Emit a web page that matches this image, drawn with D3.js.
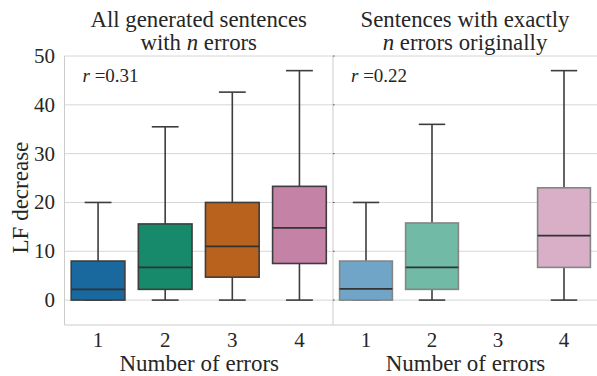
<!DOCTYPE html>
<html><head><meta charset="utf-8">
<script src="https://cdn.jsdelivr.net/npm/d3@7"></script>
<style>body{margin:0;background:#fff}svg{display:block}</style>
</head><body><svg id="c" width="597" height="376"></svg>
<script>
const categories = ["1","2","3","4"];
const yTicks = [0,10,20,30,40,50];
const panelTitles = [["All generated sentences","with ","n"," errors"],["Sentences with exactly","","n"," errors originally"]];
const rValues = ["0.31","0.22"];
// [low whisker, q1, median, q3, high whisker]
const leftStats = [[0,0,2.2,8,20],[0,2.2,6.7,15.6,35.5],[0,4.7,11,20,42.6],[0,7.5,14.8,23.3,47]];
const rightStats = [[0,0,2.3,8,20],[0,2.2,6.7,15.8,36],null,[0,6.7,13.2,23,47]];
const leftColors = ["#1a699e","#168a6b","#b8621e","#c482a6"];
const rightColors = ["#70a5c8","#71baa5","#cccccc","#d9afc8"];
const FONT = "Liberation Serif";

const svg = d3.select("#c");
const txt = (sel)=>sel.append("text").attr("font-family",FONT).attr("fill","#262626");
const y = d3.scaleLinear().domain([-5.1,50]).range([325,56]);
const panels = [{x0:64.5,x1:333,stats:leftStats,colors:leftColors,edge:"#3d3d3d"},
                {x0:333,x1:597,stats:rightStats,colors:rightColors,edge:"#858585"}];

panels.forEach((p,pi)=>{
  const x = d3.scaleBand().domain(categories).range([p.x0,p.x1]).paddingInner(0.2).paddingOuter(0.1);
  const g = svg.append("g");
  g.selectAll("line.grid").data(yTicks).join("line")
    .attr("x1",p.x0).attr("x2",p.x1).attr("y1",d=>y(d)).attr("y2",d=>y(d))
    .attr("stroke","#d6d6d6").attr("stroke-width",1);
  g.append("line").attr("x1",p.x0).attr("x2",p.x0).attr("y1",y(50)).attr("y2",325).attr("stroke","#cccccc");
  g.append("line").attr("x1",p.x0).attr("x2",p.x1).attr("y1",325).attr("y2",325).attr("stroke","#cccccc");
  p.stats.forEach((s,i)=>{
    if(!s) return;
    const cx = x(categories[i]) + x.bandwidth()/2;
    const w = x.bandwidth();
    const cap = w/2;
    const bg = g.append("g");
    const ln = (x1,x2,y1,y2,c)=>bg.append("line").attr("x1",x1).attr("x2",x2).attr("y1",y1).attr("y2",y2).attr("stroke",c||"#3d3d3d").attr("stroke-width",1.6);
    ln(cx,cx,y(s[0]),y(s[1]));
    ln(cx,cx,y(s[3]),y(s[4]));
    ln(cx-cap/2,cx+cap/2,y(s[0]),y(s[0]));
    ln(cx-cap/2,cx+cap/2,y(s[4]),y(s[4]));
    bg.append("rect").attr("x",cx-w/2).attr("width",w).attr("y",y(s[3])).attr("height",y(s[1])-y(s[3]))
      .attr("fill",p.colors[i]).attr("stroke",p.edge).attr("stroke-width",1.6);
    ln(cx-w/2,cx+w/2,y(s[2]),y(s[2]),"#333");
  });
  categories.forEach(c=>{
    txt(g).attr("x",x(c)+x.bandwidth()/2).attr("y",347).attr("text-anchor","middle").attr("font-size",21).text(c);
  });
  txt(g).attr("x",(p.x0+p.x1)/2+0.5).attr("y",371).attr("text-anchor","middle").attr("font-size",23).text("Number of errors");
  const t = panelTitles[pi];
  const cxp = (p.x0+p.x1)/2;
  txt(g).attr("x",cxp).attr("y",27).attr("text-anchor","middle").attr("font-size",22.8).text(t[0]);
  const t2 = txt(g).attr("x",cxp).attr("y",50).attr("text-anchor","middle").attr("font-size",22.8);
  t2.append("tspan").text(t[1]);
  t2.append("tspan").attr("font-style","italic").text(t[2]);
  t2.append("tspan").text(t[3]);
  const rt = txt(g).attr("x",p.x0+18).attr("y",82).attr("font-size",19);
  rt.append("tspan").attr("font-style","italic").text("r");
  rt.append("tspan").text(" =" + rValues[pi]);
  if(pi===1){
    g.selectAll("line.tk").data(yTicks).join("line").attr("x1",p.x0).attr("x2",p.x0+1.5).attr("y1",d=>y(d)).attr("y2",d=>y(d)).attr("stroke","#555");
  }
});
yTicks.forEach(d=>{
  txt(svg).attr("x",55).attr("y",y(d)+7).attr("text-anchor","end").attr("font-size",21).text(d);
});
txt(svg).attr("transform","translate(28,"+y(21)+") rotate(-90)").attr("text-anchor","middle").attr("font-size",23).text("LF decrease");
</script></body></html>
